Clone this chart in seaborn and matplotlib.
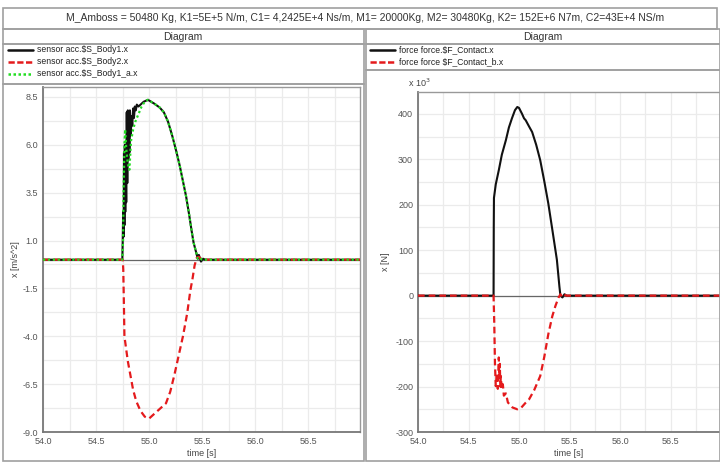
import matplotlib
matplotlib.use("Agg")
import matplotlib.pyplot as plt
import seaborn as sns
from matplotlib.lines import Line2D
from matplotlib.patches import Rectangle
from matplotlib.ticker import MultipleLocator, FormatStrFormatter

# Acceleration data (left diagram), time in s, acc in m/s^2
t_body1 = [54.0, 54.748, 54.752, 54.756, 54.760, 54.764, 54.768, 54.772, 54.776, 54.780,
           54.785, 54.790, 54.795, 54.800, 54.805, 54.810, 54.815, 54.820, 54.828, 54.835,
           54.842, 54.850, 54.858, 54.866, 54.875, 54.885, 54.90, 54.92, 54.95, 54.99,
           55.02, 55.05, 55.10, 55.14, 55.18, 55.22, 55.26, 55.29, 55.32, 55.35, 55.38,
           55.40, 55.42, 55.445, 55.46, 55.47, 55.49, 55.51, 55.53, 57.05]
acc_body1 = [0, 0, 1.0, 2.5, 1.2, 5.6, 1.8, 6.0, 2.5, 5.5,
             3.0, 7.7, 4.0, 7.8, 5.2, 7.2, 5.6, 7.8, 6.5, 7.5,
             7.0, 7.9, 7.4, 8.0, 7.8, 8.1, 8.0, 8.1, 8.25, 8.35,
             8.25, 8.15, 7.95, 7.7, 7.2, 6.45, 5.6, 4.9, 4.1, 3.3, 2.3,
             1.57, 0.9, 0.37, 0.05, 0.25, -0.1, 0.05, 0, 0]

t_body1_a = [54.0, 54.748, 54.755, 54.760, 54.768, 54.775, 54.785, 54.800, 54.815, 54.830,
             54.850, 54.870, 54.90, 54.93, 54.96, 54.99, 55.02, 55.05, 55.10, 55.14,
             55.18, 55.22, 55.26, 55.29, 55.32, 55.35, 55.38, 55.40, 55.42, 55.445,
             55.46, 55.48, 55.50, 57.05]
acc_body1_a = [0, 0, 1.0, 3.5, 6.0, 6.8, 5.8, 5.0, 4.7, 6.2,
               6.8, 7.2, 7.6, 8.0, 8.25, 8.35, 8.25, 8.15, 7.95, 7.7,
               7.2, 6.45, 5.6, 4.9, 4.1, 3.3, 2.3, 1.57, 0.9, 0.37,
               0.05, 0.1, 0, 0]

t_body2 = [54.0, 54.752, 54.757, 54.762, 54.768, 54.80, 54.85, 54.88, 54.92, 54.96,
           55.0, 55.04, 55.08, 55.12, 55.16, 55.20, 55.24, 55.28, 55.32, 55.36,
           55.39, 55.41, 55.43, 55.45, 55.47, 55.50, 57.05]
acc_body2 = [0, 0, -0.5, -2.0, -4.0, -5.3, -6.8, -7.4, -7.9, -8.2,
             -8.3, -8.1, -7.9, -7.7, -7.5, -6.9, -6.0, -5.0, -4.0, -2.8,
             -1.6, -1.0, -0.3, 0.1, 0.15, 0, 0]

# Contact force data (right diagram), force in 10^3 N
t_contact = [54.0, 54.748, 54.750, 54.752, 54.77, 54.80, 54.83, 54.87, 54.90, 54.93,
             54.96, 54.983, 55.0, 55.03, 55.05, 55.066, 55.10, 55.13, 55.17, 55.21,
             55.25, 55.29, 55.33, 55.375, 55.40, 55.41, 55.43, 55.45, 55.47, 57.05]
force_contact = [0, 0, 150, 215, 245, 276, 310, 342, 370, 390,
                 408, 415, 413, 400, 390, 386, 372, 360, 332, 298,
                 252, 203, 145, 79, 20, 0, -4, 3, 0, 0]

t_contact_b = [54.0, 54.748, 54.755, 54.762, 54.77, 54.78, 54.79, 54.80, 54.805, 54.81,
               54.815, 54.82, 54.83, 54.84, 54.85, 54.87, 54.89, 54.935, 54.983, 55.02,
               55.06, 55.10, 55.15, 55.21, 55.25, 55.29, 55.33, 55.36, 55.39, 55.41,
               55.43, 55.45, 55.47, 57.05]
force_contact_b = [0, 0, -60, -150, -199, -170, -205, -136, -180, -150,
                   -200, -177, -206, -195, -220, -215, -235, -246, -250, -247,
                   -237, -228, -208, -177, -135, -85, -45, -23, -5, 3,
                   -3, 2, 0, 0]

title = ("M_Amboss = 50480 Kg, K1=5E+5 N/m, C1= 4,2425E+4 Ns/m, M1= 20000Kg, "
         "M2= 30480Kg, K2= 152E+6 N7m, C2=43E+4 NS/m")
left_labels = ["sensor acc.$S_Body1.x", "sensor acc.$S_Body2.x", "sensor acc.$S_Body1_a.x"]
right_labels = ["force force.$F_Contact.x", "force force $F_Contact_b.x"]

sns.set_theme(style="white")
plt.rcParams["font.family"] = ["Liberation Sans", "DejaVu Sans"]

W, H = 720, 462
fig = plt.figure(figsize=(7.2, 4.62), dpi=100)


def box(x0, y0, x1, y1):
    return [x0 / W, 1 - y1 / H, (x1 - x0) / W, (y1 - y0) / H]


def frame(x0, y0, x1, y1, color="#a0a0a0", lw=1.2):
    fig.add_artist(Rectangle((x0 / W, 1 - y1 / H), (x1 - x0) / W, (y1 - y0) / H,
                             transform=fig.transFigure, fill=False, ec=color, lw=lw))


def legend_row(x, y, style, color, label):
    kw = dict(color=color, lw=1.8)
    if style == "--":
        kw.update(linestyle=(0, (2.5, 1)))
    elif style == ":":
        kw.update(linestyle=(0, (1, 1)))
    fig.add_artist(Line2D([x / W, (x + 25) / W], [1 - y / H, 1 - y / H],
                          transform=fig.transFigure, **kw))
    fig.text((x + 29) / W, 1 - y / H, label, fontsize=6.2, va="center",
             color="#222", parse_math=False)


# panel frames
frame(3, 8, 717, 29)
frame(3, 29, 364, 44)
frame(366, 29, 720, 44)
frame(3, 44, 364, 84)
frame(366, 44, 720, 70)
frame(3, 84, 364, 461)
frame(366, 70, 720, 461)

fig.text(365 / W, 1 - 18 / H, title, ha="center", va="center", fontsize=7.5,
         color="#333")
fig.text(183 / W, 1 - 36.5 / H, "Diagram", ha="center", va="center", fontsize=7.5,
         color="#333")
fig.text(543 / W, 1 - 36.5 / H, "Diagram", ha="center", va="center", fontsize=7.5,
         color="#333")

legend_row(8, 50, "-", "#111", left_labels[0])
legend_row(8, 62, "--", "#e41a1c", left_labels[1])
legend_row(8, 74, ":", "#22dd22", left_labels[2])
legend_row(370, 50, "-", "#111", right_labels[0])
legend_row(370, 62, "--", "#e41a1c", right_labels[1])


def style_axes(ax, ymajor, yminor, yoffset, yfmt):
    ax.xaxis.set_major_locator(MultipleLocator(0.5))
    ax.xaxis.set_minor_locator(MultipleLocator(0.25))
    ax.yaxis.set_major_locator(MultipleLocator(ymajor, offset=yoffset))
    ax.yaxis.set_minor_locator(MultipleLocator(yminor, offset=yoffset))
    ax.xaxis.set_major_formatter(FormatStrFormatter("%.1f"))
    ax.yaxis.set_major_formatter(FormatStrFormatter(yfmt))
    ax.grid(True, which="both", color="#ebebeb", lw=0.9)
    ax.set_axisbelow(True)
    ax.tick_params(which="both", direction="out", length=2.5, width=0.8,
                   color="#555", labelsize=6.5, labelcolor="#555", pad=1)
    ax.tick_params(which="minor", length=2)
    for side in ["left", "bottom"]:
        ax.spines[side].set_color("#777")
        ax.spines[side].set_linewidth(1.3)
    for side in ["top", "right"]:
        ax.spines[side].set_color("#999")
        ax.spines[side].set_linewidth(1.0)
    ax.set_xlabel("time [s]", fontsize=6.5, color="#444", labelpad=2)
    ax.axhline(0, color="#666", lw=0.9, zorder=1.5)


# left diagram: accelerations
ax1 = fig.add_axes(box(43, 87, 360, 432))
sns.lineplot(x=t_body1, y=acc_body1, ax=ax1, color="#111", lw=1.5, zorder=3)
sns.lineplot(x=t_body2, y=acc_body2, ax=ax1, color="#e41a1c", lw=1.6,
             linestyle=(0, (3, 1.8)), zorder=4)
sns.lineplot(x=t_body1_a, y=acc_body1_a, ax=ax1, color="#22dd22", lw=1.6,
             linestyle=(0, (1, 1.2)), zorder=5)
ax1.set_xlim(54.0, 56.99)
ax1.set_ylim(-9.0, 9.02)
style_axes(ax1, 2.5, 1.25, 1.0, "%.1f")
ax1.set_ylabel("x [m/s^2]", fontsize=6.5, color="#444", labelpad=2)

# right diagram: contact forces
ax2 = fig.add_axes(box(418, 92, 720, 432))
sns.lineplot(x=t_contact, y=force_contact, ax=ax2, color="#111", lw=1.5, zorder=3)
sns.lineplot(x=t_contact_b, y=force_contact_b, ax=ax2, color="#e41a1c", lw=1.6,
             linestyle=(0, (3, 1.8)), zorder=4)
ax2.set_xlim(54.0, 56.99)
ax2.set_ylim(-300, 448)
style_axes(ax2, 100, 50, 0.0, "%d")
ax2.set_ylabel("x [N]", fontsize=6.5, color="#444", labelpad=4)
fig.text(408 / W, 1 - 83 / H, "x 10$^3$", fontsize=6.5, color="#444", va="center")

fig.savefig("out.png", dpi=100)
